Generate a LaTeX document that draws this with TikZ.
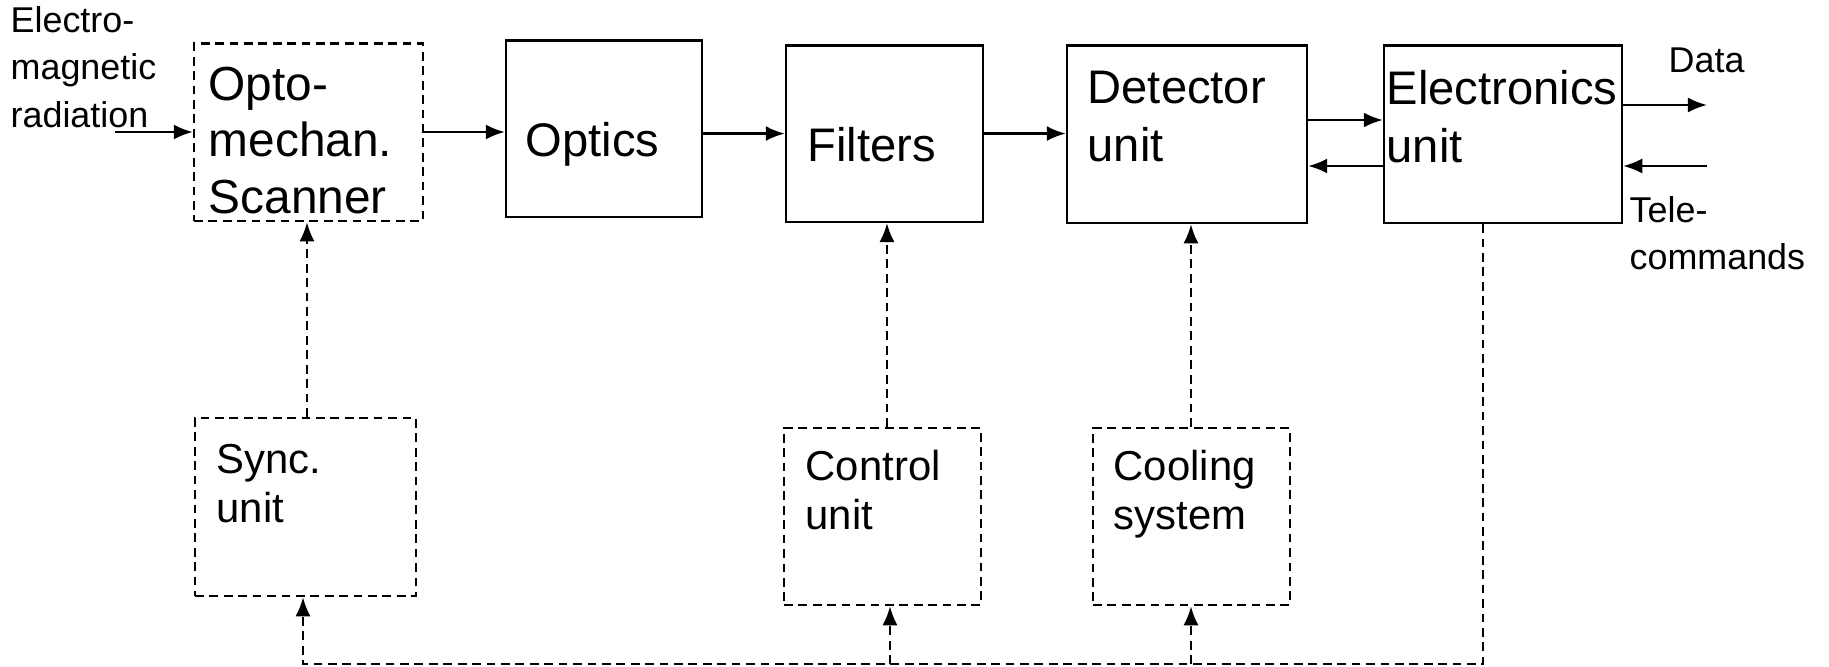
\documentclass[tikz,border=0pt]{standalone}
\usepackage{fontspec}
\setmainfont{Liberation Sans}
\usetikzlibrary{arrows.meta,fit}
\begin{document}
\begin{tikzpicture}[x=0.01cm,y=-0.01cm,
  solidbox/.style={draw,line width=0.7pt,inner sep=0pt},
  dashbox/.style={draw,line width=0.7pt,inner sep=0pt,dash pattern=on 2.5pt off 1.6pt},
  arr/.style={line width=0.65pt,-{Latex[length=1.9mm,width=1.5mm]}},
  darr/.style={line width=0.65pt,dash pattern=on 2.5pt off 1.6pt,-{Latex[length=1.9mm,width=1.5mm]}},
  txt/.style={inner sep=0pt,anchor=base west},
  bigtxt/.style={txt,font=\fontsize{13.4}{16.6}\selectfont},
  scantxt/.style={txt,font=\fontsize{13.6}{16.2}\selectfont},
  lowtxt/.style={txt,font=\fontsize{11.9}{14}\selectfont},
  lbltxt/.style={txt,font=\fontsize{10.2}{13.6}\selectfont}]
\useasboundingbox (0,0) rectangle (1829,666);

% boxes
\node[dashbox,fit={(194,43.5) (423,221)}] (scan) {};
\node[solidbox,fit={(506,40.6) (702,217)}] (opt) {};
\node[solidbox,fit={(786,45.3) (983,221.8)}] (fil) {};
\node[solidbox,fit={(1067,45.3) (1307,223)}] (det) {};
\node[solidbox,fit={(1384,45.3) (1622,223)}] (elec) {};
\node[dashbox,fit={(195,418) (416,596)}] (sync) {};
\node[dashbox,fit={(784,428) (981,605)}] (ctrl) {};
\node[dashbox,fit={(1093,428) (1290,605)}] (cool) {};

% texts
\node[scantxt] (tscan) at (208,100) {\begin{tabular}[t]{@{}l@{}}Opto-\\mechan.\\Scanner\end{tabular}};
\node[bigtxt] (topt) at (525,156) {Optics};
\node[bigtxt] (tfil) at (807,161) {Filters};
\node[bigtxt] (tdet) at (1087,103) {\begin{tabular}[t]{@{}l@{}}Detector\\unit\end{tabular}};
\node[bigtxt] (telec) at (1386,104) {\begin{tabular}[t]{@{}l@{}}Electronics\\unit\end{tabular}};
\node[lowtxt] (tsync) at (216,473) {\begin{tabular}[t]{@{}l@{}}Sync.\\unit\end{tabular}};
\node[lowtxt] (tctrl) at (805,480) {\begin{tabular}[t]{@{}l@{}}Control\\unit\end{tabular}};
\node[lowtxt] (tcool) at (1113,480) {\begin{tabular}[t]{@{}l@{}}Cooling\\system\end{tabular}};
\node[lbltxt] (trad) at (10,32) {\begin{tabular}[t]{@{}l@{}}Electro-\\magnetic\\radiation\end{tabular}};
\node[lbltxt] (tdata) at (1668,72) {Data};
\node[lbltxt] (ttele) at (1629,222) {\begin{tabular}[t]{@{}l@{}}Tele-\\commands\end{tabular}};

% helper coordinates
\coordinate (radstart) at (115,132);
\coordinate (yup) at (0,120);
\coordinate (ydown) at (0,166);
\coordinate (dataend) at (1707,105);
\coordinate (telestart) at (1707,166);
\coordinate (xs) at (307,0);
\coordinate (xf) at (887,0);
\coordinate (xd) at (1191,0);
\coordinate (xe) at (1483,0);
\coordinate (xsb) at (303,0);
\coordinate (xcb) at (890,0);
\coordinate (bus) at (0,664);

% solid connectors
\draw[arr] (radstart) -- (radstart -| scan.west);
\draw[arr] (radstart -| scan.east) -- (radstart -| opt.west);
\draw[arr] (opt.east |- fil.east) -- (fil.west);
\draw[arr] (fil.east) -- (fil.east -| det.west);
\draw[arr] (det.east |- yup) -- (elec.west |- yup);
\draw[arr] (elec.west |- ydown) -- (det.east |- ydown);
\draw[arr] (elec.east |- dataend) -- (dataend);
\draw[arr] (telestart) -- (telestart -| elec.east);

% dashed connectors
\draw[darr] (sync.north -| xs) -- (scan.south -| xs);
\draw[darr] (ctrl.north -| xf) -- (fil.south -| xf);
\draw[darr] (cool.north -| xd) -- (det.south -| xd);
\draw[darr] (elec.south -| xe) -- (xe |- bus) -- (xsb |- bus) -- (sync.south -| xsb);
\draw[darr] (xcb |- bus) -- (ctrl.south -| xcb);
\draw[darr] (xd |- bus) -- (cool.south -| xd);
\end{tikzpicture}
\end{document}
